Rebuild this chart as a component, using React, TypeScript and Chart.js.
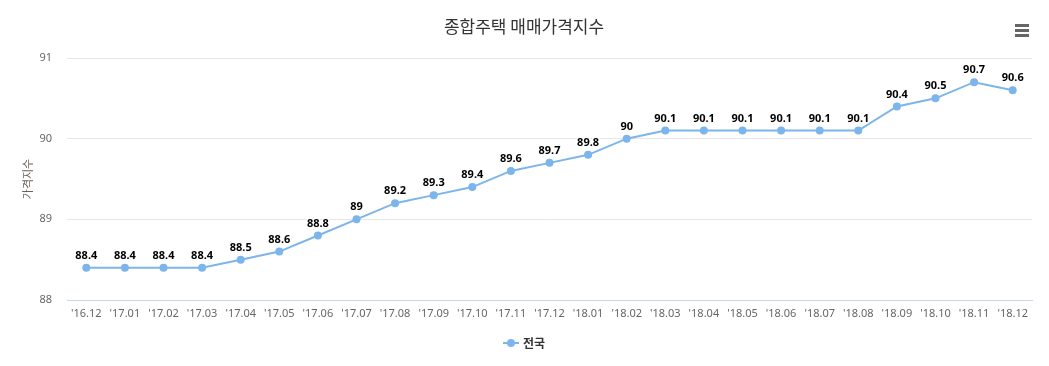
import React, { useEffect, useRef } from "react";
import { Chart, registerables } from "chart.js";

Chart.register(...registerables);

const categories = [
  "'16.12", "'17.01", "'17.02", "'17.03", "'17.04", "'17.05", "'17.06", "'17.07",
  "'17.08", "'17.09", "'17.10", "'17.11", "'17.12", "'18.01", "'18.02", "'18.03",
  "'18.04", "'18.05", "'18.06", "'18.07", "'18.08", "'18.09", "'18.10", "'18.11", "'18.12",
];
const nationalValues = [
  88.4, 88.4, 88.4, 88.4, 88.5, 88.6, 88.8, 89, 89.2, 89.3, 89.4, 89.6, 89.7,
  89.8, 90, 90.1, 90.1, 90.1, 90.1, 90.1, 90.1, 90.4, 90.5, 90.7, 90.6,
];
const seriesName = "전국";
const chartTitle = "종합주택 매매가격지수";
const yAxisTitle = "가격지수";

const FONT = "'Noto Sans', 'Noto Sans CJK KR', sans-serif";
const KFONT = "'Noto Sans CJK KR', 'Noto Sans', sans-serif";
const LINE_COLOR = "#7cb5ec";

const decorPlugin = {
  id: "decor",
  afterDatasetsDraw(chart: any) {
    const ctx = chart.ctx;
    const meta = chart.getDatasetMeta(0);
    ctx.save();
    ctx.font = `bold 11px ${FONT}`;
    ctx.textAlign = "center";
    ctx.textBaseline = "middle";
    ctx.lineJoin = "round";
    meta.data.forEach((pt: any, i: number) => {
      const txt = String(chart.data.datasets[0].data[i]);
      ctx.lineWidth = 3;
      ctx.strokeStyle = "#ffffff";
      ctx.strokeText(txt, pt.x, pt.y - 12);
      ctx.fillStyle = "#000000";
      ctx.fillText(txt, pt.x, pt.y - 12);
    });
    ctx.restore();
  },
  afterDraw(chart: any) {
    const ctx = chart.ctx;
    ctx.save();
    // title
    ctx.font = `17px ${KFONT}`;
    ctx.fillStyle = "#333333";
    ctx.textAlign = "center";
    ctx.textBaseline = "middle";
    ctx.fillText(chartTitle, 524, 27);
    // hamburger menu
    ctx.strokeStyle = "#666666";
    ctx.lineWidth = 3;
    [25, 30, 35].forEach((y) => {
      ctx.beginPath();
      ctx.moveTo(1015, y + 0.5);
      ctx.lineTo(1029, y + 0.5);
      ctx.stroke();
    });
    // legend
    const ly = 343;
    ctx.strokeStyle = LINE_COLOR;
    ctx.lineWidth = 2;
    ctx.beginPath();
    ctx.moveTo(503, ly);
    ctx.lineTo(519, ly);
    ctx.stroke();
    ctx.fillStyle = LINE_COLOR;
    ctx.beginPath();
    ctx.arc(511, ly, 4, 0, Math.PI * 2);
    ctx.fill();
    ctx.font = `bold 12px ${KFONT}`;
    ctx.fillStyle = "#333333";
    ctx.textAlign = "left";
    ctx.fillText(seriesName, 523, ly);
    ctx.restore();
  },
};

export default function App() {
  const ref = useRef<HTMLCanvasElement | null>(null);
  useEffect(() => {
    document.body.style.margin = "0";
    const canvas = ref.current;
    if (!canvas) return;
    const chart = new Chart(canvas, {
      type: "line",
      data: {
        labels: categories,
        datasets: [
          {
            label: seriesName,
            data: nationalValues,
            borderColor: LINE_COLOR,
            backgroundColor: LINE_COLOR,
            borderWidth: 2,
            pointRadius: 4,
            pointBackgroundColor: LINE_COLOR,
            pointBorderWidth: 0,
            tension: 0,
          },
        ],
      },
      options: {
        responsive: false,
        animation: false,
        layout: { padding: { top: 58, right: 17, left: 0, bottom: 0 } },
        plugins: {
          legend: { display: false },
          title: { display: false },
          tooltip: { enabled: false },
        },
        scales: {
          x: {
            type: "category",
            offset: true,
            grid: { display: false, drawTicks: false },
            border: { display: true, color: "#ccd6eb", width: 1 },
            ticks: {
              color: "#666666",
              font: { family: FONT, size: 11 },
              padding: 7,
              maxRotation: 0,
              autoSkip: false,
            },
            afterFit(scale: any) {
              scale.height = 66;
            },
          },
          y: {
            min: 88,
            max: 91,
            grid: {
              color: (c: any) => (c.tick && c.tick.value === 88 ? "rgba(0,0,0,0)" : "#e6e6e6"),
              drawTicks: false,
            },
            border: { display: false },
            ticks: {
              stepSize: 1,
              color: "#666666",
              font: { family: FONT, size: 11 },
              padding: 15,
            },
            title: {
              display: true,
              text: yAxisTitle,
              color: "#6b5f5a",
              font: { family: KFONT, size: 11 },
              padding: { top: 21, bottom: 0 },
            },
            afterFit(scale: any) {
              scale.width = 67;
            },
          },
        },
      },
      plugins: [decorPlugin],
    });
    return () => chart.destroy();
  }, []);
  return (
    <div style={{ width: 1049, height: 366 }}>
      <canvas ref={ref} width={1049} height={366} style={{ display: "block" }} />
    </div>
  );
}
